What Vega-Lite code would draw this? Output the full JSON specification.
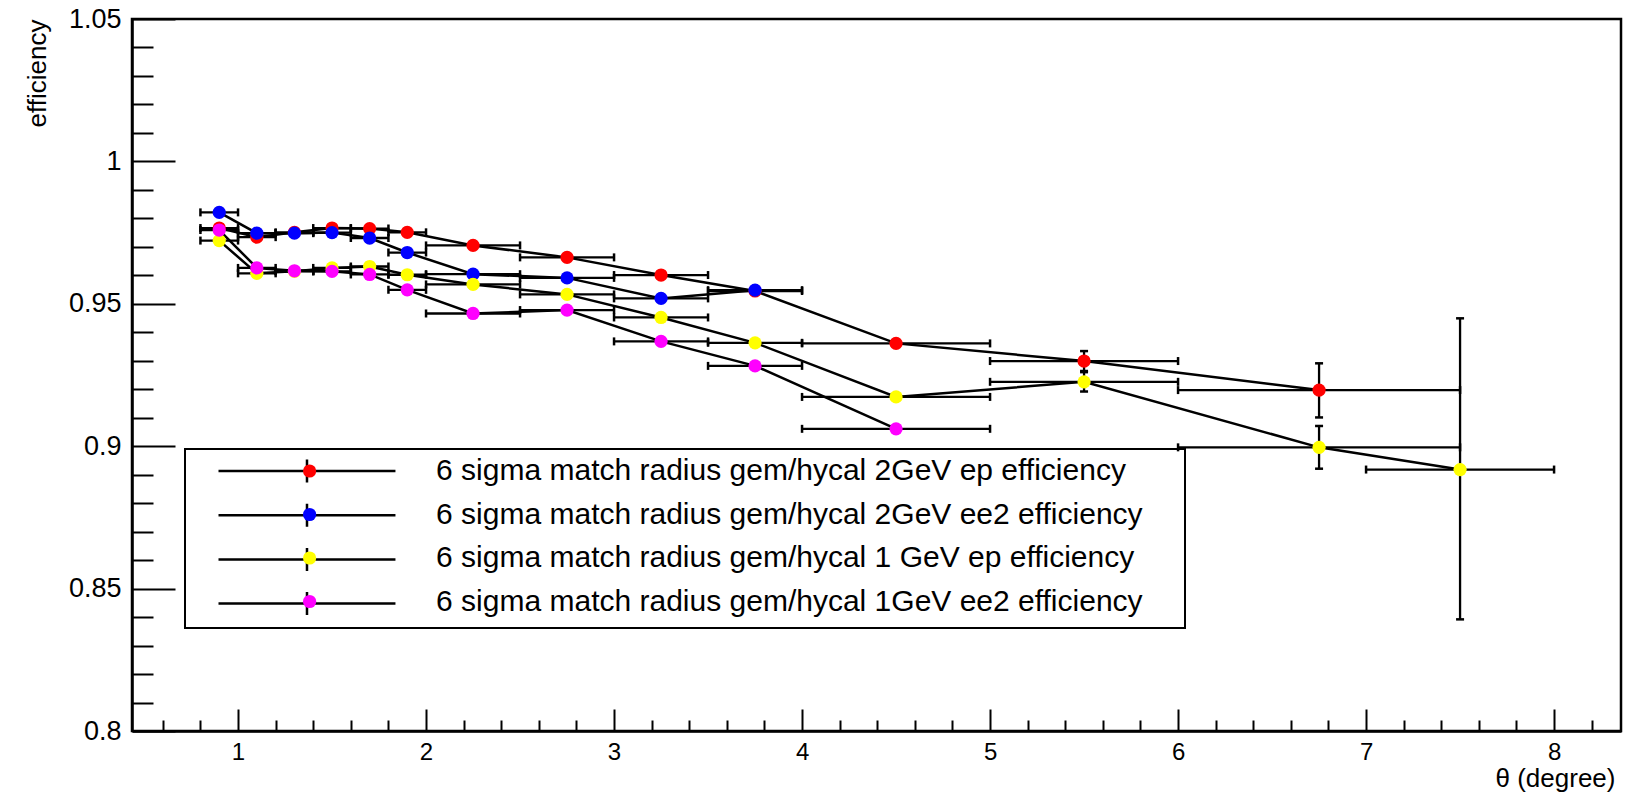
{
  "$schema": "https://vega.github.io/schema/vega-lite/v6.json",
  "autosize": {"type": "none"},
  "width": 1489,
  "height": 712,
  "padding": {"left": 132, "top": 19, "right": 8, "bottom": 67},
  "background": "white",
  "config": {
    "font": "Liberation Sans",
    "view": {"stroke": "black", "strokeWidth": 2.5},
    "legend": {"strokeWidth": 2}
  },
  "data": {
    "values": [
      {"s": "6 sigma match radius gem/hycal 2GeV ep efficiency", "x": 0.9, "xlo": 0.8, "xhi": 1.0, "y": 0.9766, "ylo": 0.9754, "yhi": 0.9778},
      {"s": "6 sigma match radius gem/hycal 2GeV ep efficiency", "x": 1.1, "xlo": 1.0, "xhi": 1.2, "y": 0.9734, "ylo": 0.9722, "yhi": 0.9746},
      {"s": "6 sigma match radius gem/hycal 2GeV ep efficiency", "x": 1.3, "xlo": 1.2, "xhi": 1.4, "y": 0.9751, "ylo": 0.9739, "yhi": 0.9763},
      {"s": "6 sigma match radius gem/hycal 2GeV ep efficiency", "x": 1.5, "xlo": 1.4, "xhi": 1.6, "y": 0.9766, "ylo": 0.9754, "yhi": 0.9778},
      {"s": "6 sigma match radius gem/hycal 2GeV ep efficiency", "x": 1.7, "xlo": 1.6, "xhi": 1.8, "y": 0.9764, "ylo": 0.9752, "yhi": 0.9776},
      {"s": "6 sigma match radius gem/hycal 2GeV ep efficiency", "x": 1.9, "xlo": 1.8, "xhi": 2.0, "y": 0.9751, "ylo": 0.9739, "yhi": 0.9763},
      {"s": "6 sigma match radius gem/hycal 2GeV ep efficiency", "x": 2.25, "xlo": 2.0, "xhi": 2.5, "y": 0.9705, "ylo": 0.9693, "yhi": 0.9717},
      {"s": "6 sigma match radius gem/hycal 2GeV ep efficiency", "x": 2.75, "xlo": 2.5, "xhi": 3.0, "y": 0.9663, "ylo": 0.9651, "yhi": 0.9675},
      {"s": "6 sigma match radius gem/hycal 2GeV ep efficiency", "x": 3.25, "xlo": 3.0, "xhi": 3.5, "y": 0.9601, "ylo": 0.9589, "yhi": 0.9613},
      {"s": "6 sigma match radius gem/hycal 2GeV ep efficiency", "x": 3.75, "xlo": 3.5, "xhi": 4.0, "y": 0.9545, "ylo": 0.9533, "yhi": 0.9557},
      {"s": "6 sigma match radius gem/hycal 2GeV ep efficiency", "x": 4.5, "xlo": 4.0, "xhi": 5.0, "y": 0.9361, "ylo": 0.9349, "yhi": 0.9373},
      {"s": "6 sigma match radius gem/hycal 2GeV ep efficiency", "x": 5.5, "xlo": 5.0, "xhi": 6.0, "y": 0.9299, "ylo": 0.9264, "yhi": 0.9334},
      {"s": "6 sigma match radius gem/hycal 2GeV ep efficiency", "x": 6.75, "xlo": 6.0, "xhi": 7.5, "y": 0.9197, "ylo": 0.9101, "yhi": 0.9291},

      {"s": "6 sigma match radius gem/hycal 2GeV ee2 efficiency", "x": 0.9, "xlo": 0.8, "xhi": 1.0, "y": 0.9821, "ylo": 0.9809, "yhi": 0.9833},
      {"s": "6 sigma match radius gem/hycal 2GeV ee2 efficiency", "x": 1.1, "xlo": 1.0, "xhi": 1.2, "y": 0.9748, "ylo": 0.9736, "yhi": 0.976},
      {"s": "6 sigma match radius gem/hycal 2GeV ee2 efficiency", "x": 1.3, "xlo": 1.2, "xhi": 1.4, "y": 0.9748, "ylo": 0.9736, "yhi": 0.976},
      {"s": "6 sigma match radius gem/hycal 2GeV ee2 efficiency", "x": 1.5, "xlo": 1.4, "xhi": 1.6, "y": 0.975, "ylo": 0.9738, "yhi": 0.9762},
      {"s": "6 sigma match radius gem/hycal 2GeV ee2 efficiency", "x": 1.7, "xlo": 1.6, "xhi": 1.8, "y": 0.9731, "ylo": 0.9719, "yhi": 0.9743},
      {"s": "6 sigma match radius gem/hycal 2GeV ee2 efficiency", "x": 1.9, "xlo": 1.8, "xhi": 2.0, "y": 0.968, "ylo": 0.9668, "yhi": 0.9692},
      {"s": "6 sigma match radius gem/hycal 2GeV ee2 efficiency", "x": 2.25, "xlo": 2.0, "xhi": 2.5, "y": 0.9604, "ylo": 0.9592, "yhi": 0.9616},
      {"s": "6 sigma match radius gem/hycal 2GeV ee2 efficiency", "x": 2.75, "xlo": 2.5, "xhi": 3.0, "y": 0.9591, "ylo": 0.9579, "yhi": 0.9603},
      {"s": "6 sigma match radius gem/hycal 2GeV ee2 efficiency", "x": 3.25, "xlo": 3.0, "xhi": 3.5, "y": 0.9519, "ylo": 0.9507, "yhi": 0.9531},
      {"s": "6 sigma match radius gem/hycal 2GeV ee2 efficiency", "x": 3.75, "xlo": 3.5, "xhi": 4.0, "y": 0.9548, "ylo": 0.9536, "yhi": 0.956},

      {"s": "6 sigma match radius gem/hycal 1 GeV ep efficiency", "x": 0.9, "xlo": 0.8, "xhi": 1.0, "y": 0.9722, "ylo": 0.971, "yhi": 0.9734},
      {"s": "6 sigma match radius gem/hycal 1 GeV ep efficiency", "x": 1.1, "xlo": 1.0, "xhi": 1.2, "y": 0.9607, "ylo": 0.9595, "yhi": 0.9619},
      {"s": "6 sigma match radius gem/hycal 1 GeV ep efficiency", "x": 1.3, "xlo": 1.2, "xhi": 1.4, "y": 0.9614, "ylo": 0.9602, "yhi": 0.9626},
      {"s": "6 sigma match radius gem/hycal 1 GeV ep efficiency", "x": 1.5, "xlo": 1.4, "xhi": 1.6, "y": 0.9626, "ylo": 0.9614, "yhi": 0.9638},
      {"s": "6 sigma match radius gem/hycal 1 GeV ep efficiency", "x": 1.7, "xlo": 1.6, "xhi": 1.8, "y": 0.9631, "ylo": 0.9619, "yhi": 0.9643},
      {"s": "6 sigma match radius gem/hycal 1 GeV ep efficiency", "x": 1.9, "xlo": 1.8, "xhi": 2.0, "y": 0.9602, "ylo": 0.959, "yhi": 0.9614},
      {"s": "6 sigma match radius gem/hycal 1 GeV ep efficiency", "x": 2.25, "xlo": 2.0, "xhi": 2.5, "y": 0.9568, "ylo": 0.9556, "yhi": 0.958},
      {"s": "6 sigma match radius gem/hycal 1 GeV ep efficiency", "x": 2.75, "xlo": 2.5, "xhi": 3.0, "y": 0.9533, "ylo": 0.9521, "yhi": 0.9545},
      {"s": "6 sigma match radius gem/hycal 1 GeV ep efficiency", "x": 3.25, "xlo": 3.0, "xhi": 3.5, "y": 0.9452, "ylo": 0.944, "yhi": 0.9464},
      {"s": "6 sigma match radius gem/hycal 1 GeV ep efficiency", "x": 3.75, "xlo": 3.5, "xhi": 4.0, "y": 0.9363, "ylo": 0.9351, "yhi": 0.9375},
      {"s": "6 sigma match radius gem/hycal 1 GeV ep efficiency", "x": 4.5, "xlo": 4.0, "xhi": 5.0, "y": 0.9173, "ylo": 0.9161, "yhi": 0.9185},
      {"s": "6 sigma match radius gem/hycal 1 GeV ep efficiency", "x": 5.5, "xlo": 5.0, "xhi": 6.0, "y": 0.9226, "ylo": 0.9192, "yhi": 0.926},
      {"s": "6 sigma match radius gem/hycal 1 GeV ep efficiency", "x": 6.75, "xlo": 6.0, "xhi": 7.5, "y": 0.8996, "ylo": 0.8921, "yhi": 0.9071},
      {"s": "6 sigma match radius gem/hycal 1 GeV ep efficiency", "x": 7.5, "xlo": 7.0, "xhi": 8.0, "y": 0.8918, "ylo": 0.8392, "yhi": 0.9449},

      {"s": "6 sigma match radius gem/hycal 1GeV ee2 efficiency", "x": 0.9, "xlo": 0.8, "xhi": 1.0, "y": 0.9759, "ylo": 0.9747, "yhi": 0.9771},
      {"s": "6 sigma match radius gem/hycal 1GeV ee2 efficiency", "x": 1.1, "xlo": 1.0, "xhi": 1.2, "y": 0.9626, "ylo": 0.9614, "yhi": 0.9638},
      {"s": "6 sigma match radius gem/hycal 1GeV ee2 efficiency", "x": 1.3, "xlo": 1.2, "xhi": 1.4, "y": 0.9616, "ylo": 0.9604, "yhi": 0.9628},
      {"s": "6 sigma match radius gem/hycal 1GeV ee2 efficiency", "x": 1.5, "xlo": 1.4, "xhi": 1.6, "y": 0.9614, "ylo": 0.9602, "yhi": 0.9626},
      {"s": "6 sigma match radius gem/hycal 1GeV ee2 efficiency", "x": 1.7, "xlo": 1.6, "xhi": 1.8, "y": 0.9603, "ylo": 0.9591, "yhi": 0.9615},
      {"s": "6 sigma match radius gem/hycal 1GeV ee2 efficiency", "x": 1.9, "xlo": 1.8, "xhi": 2.0, "y": 0.9549, "ylo": 0.9537, "yhi": 0.9561},
      {"s": "6 sigma match radius gem/hycal 1GeV ee2 efficiency", "x": 2.25, "xlo": 2.0, "xhi": 2.5, "y": 0.9466, "ylo": 0.9454, "yhi": 0.9478},
      {"s": "6 sigma match radius gem/hycal 1GeV ee2 efficiency", "x": 2.75, "xlo": 2.5, "xhi": 3.0, "y": 0.9478, "ylo": 0.9466, "yhi": 0.949},
      {"s": "6 sigma match radius gem/hycal 1GeV ee2 efficiency", "x": 3.25, "xlo": 3.0, "xhi": 3.5, "y": 0.9368, "ylo": 0.9356, "yhi": 0.938},
      {"s": "6 sigma match radius gem/hycal 1GeV ee2 efficiency", "x": 3.75, "xlo": 3.5, "xhi": 4.0, "y": 0.9282, "ylo": 0.927, "yhi": 0.9294},
      {"s": "6 sigma match radius gem/hycal 1GeV ee2 efficiency", "x": 4.5, "xlo": 4.0, "xhi": 5.0, "y": 0.9061, "ylo": 0.9049, "yhi": 0.9073}
    ]
  },
  "resolve": {"axis": {"x": "independent", "y": "independent"}},
  "layer": [
    {
      "mark": {"type": "line", "strokeWidth": 2.5},
      "encoding": {
        "x": {
          "field": "x", "type": "quantitative",
          "scale": {"domain": [0.436, 8.356], "nice": false, "zero": false},
          "axis": {
            "values": [1, 2, 3, 4, 5, 6, 7, 8], "format": "d",
            "tickSize": -22, "tickWidth": 2, "tickColor": "black",
            "domainWidth": 2.5, "domainColor": "black", "grid": false,
            "labelFont": "Liberation Sans", "labelFontSize": 24, "labelColor": "black",
            "labelPadding": 31, "labelFlush": false, "labelOverlap": false,
            "title": "θ (degree)", "titleFont": "Liberation Sans", "titleFontSize": 26,
            "titleFontWeight": "normal", "titleColor": "black",
            "titleX": 1483, "titleY": 55, "titleAlign": "right", "titleBaseline": "alphabetic"
          }
        },
        "y": {
          "field": "y", "type": "quantitative",
          "scale": {"domain": [0.8, 1.05], "nice": false, "zero": false},
          "axis": {
            "values": [0.8, 0.85, 0.9, 0.95, 1, 1.05], "format": ".2~f",
            "tickSize": -43, "tickWidth": 2, "tickColor": "black",
            "domainWidth": 2.5, "domainColor": "black", "grid": false,
            "labelFont": "Liberation Sans", "labelFontSize": 27, "labelColor": "black",
            "labelPadding": 54, "labelFlush": false, "labelOverlap": false,
            "title": "efficiency", "titleFont": "Liberation Sans", "titleFontSize": 26,
            "titleFontWeight": "normal", "titleColor": "black",
            "titleX": -87, "titleY": 0, "titleAngle": 270, "titleAlign": "right", "titleBaseline": "alphabetic"
          }
        },
        "color": {
          "field": "s", "type": "nominal",
          "scale": {
            "domain": [
              "6 sigma match radius gem/hycal 2GeV ep efficiency",
              "6 sigma match radius gem/hycal 2GeV ee2 efficiency",
              "6 sigma match radius gem/hycal 1 GeV ep efficiency",
              "6 sigma match radius gem/hycal 1GeV ee2 efficiency"
            ],
            "range": ["black", "black", "black", "black"]
          },
          "legend": {
            "orient": "none", "legendX": 53, "legendY": 430, "title": null,
            "padding": 7, "strokeColor": "black",
            "symbolType": "M-1.0,0h0.0001M0.852,0H13.96M7.407,-0.85V0.85M71.5,0h0.0001",
            "symbolSize": 729, "symbolStrokeColor": "black", "symbolStrokeWidth": 2.5,
            "labelExpr": "''", "labelFontSize": 10, "labelColor": "transparent",
            "labelOffset": 212, "labelLimit": 0, "rowPadding": 10.2
          }
        }
      }
    },
    {
      "mark": {"type": "rule", "strokeWidth": 2.3, "color": "black"},
      "encoding": {
        "x": {"field": "xlo", "type": "quantitative", "axis": null},
        "x2": {"field": "xhi"},
        "y": {"field": "y", "type": "quantitative", "axis": null}
      }
    },
    {
      "transform": [{"fold": ["xlo", "xhi"], "as": ["end", "xe"]}],
      "mark": {"type": "tick", "orient": "vertical", "size": 8, "thickness": 2.5, "color": "black", "opacity": 1},
      "encoding": {
        "x": {"field": "xe", "type": "quantitative", "axis": null},
        "y": {"field": "y", "type": "quantitative", "axis": null}
      }
    },
    {
      "mark": {"type": "rule", "strokeWidth": 2.3, "color": "black"},
      "encoding": {
        "x": {"field": "x", "type": "quantitative", "axis": null},
        "y": {"field": "ylo", "type": "quantitative", "axis": null},
        "y2": {"field": "yhi"}
      }
    },
    {
      "transform": [{"fold": ["ylo", "yhi"], "as": ["end", "ye"]}],
      "mark": {"type": "tick", "orient": "horizontal", "size": 8, "thickness": 2.5, "color": "black", "opacity": 1},
      "encoding": {
        "x": {"field": "x", "type": "quantitative", "axis": null},
        "y": {"field": "ye", "type": "quantitative", "axis": null}
      }
    },
    {
      "mark": {"type": "point", "shape": "circle", "filled": true, "size": 175, "opacity": 1, "strokeWidth": 0},
      "encoding": {
        "x": {
          "field": "x", "type": "quantitative",
          "axis": {
            "orient": "bottom",
            "values": [0.6, 0.8, 1.2, 1.4, 1.6, 1.8, 2.2, 2.4, 2.6, 2.8, 3.2, 3.4, 3.6, 3.8, 4.2, 4.4, 4.6, 4.8, 5.2, 5.4, 5.6, 5.8, 6.2, 6.4, 6.6, 6.8, 7.2, 7.4, 7.6, 7.8, 8.2],
            "labels": false, "domain": false, "grid": false, "title": null,
            "tickSize": -11, "tickWidth": 2, "tickColor": "black"
          }
        },
        "y": {
          "field": "y", "type": "quantitative",
          "axis": {
            "orient": "left",
            "values": [0.81, 0.82, 0.83, 0.84, 0.86, 0.87, 0.88, 0.89, 0.91, 0.92, 0.93, 0.94, 0.96, 0.97, 0.98, 0.99, 1.01, 1.02, 1.03, 1.04],
            "labels": false, "domain": false, "grid": false, "title": null,
            "tickSize": -21, "tickWidth": 2, "tickColor": "black"
          }
        },
        "fill": {
          "field": "s", "type": "nominal", "sort": null,
          "scale": {"range": ["#ff0000", "#0000ff", "#ffff00", "#ff00ff"]},
          "legend": {
            "orient": "none", "legendX": 152.6, "legendY": 427, "title": null,
            "padding": 10,
            "symbolType": "circle", "symbolSize": 175, "symbolStrokeWidth": 0, "symbolOpacity": 1,
            "labelFont": "Liberation Sans", "labelFontSize": 30, "labelColor": "black",
            "labelOffset": 111.5, "labelLimit": 0, "rowPadding": 13.5
          }
        }
      }
    }
  ]
}
